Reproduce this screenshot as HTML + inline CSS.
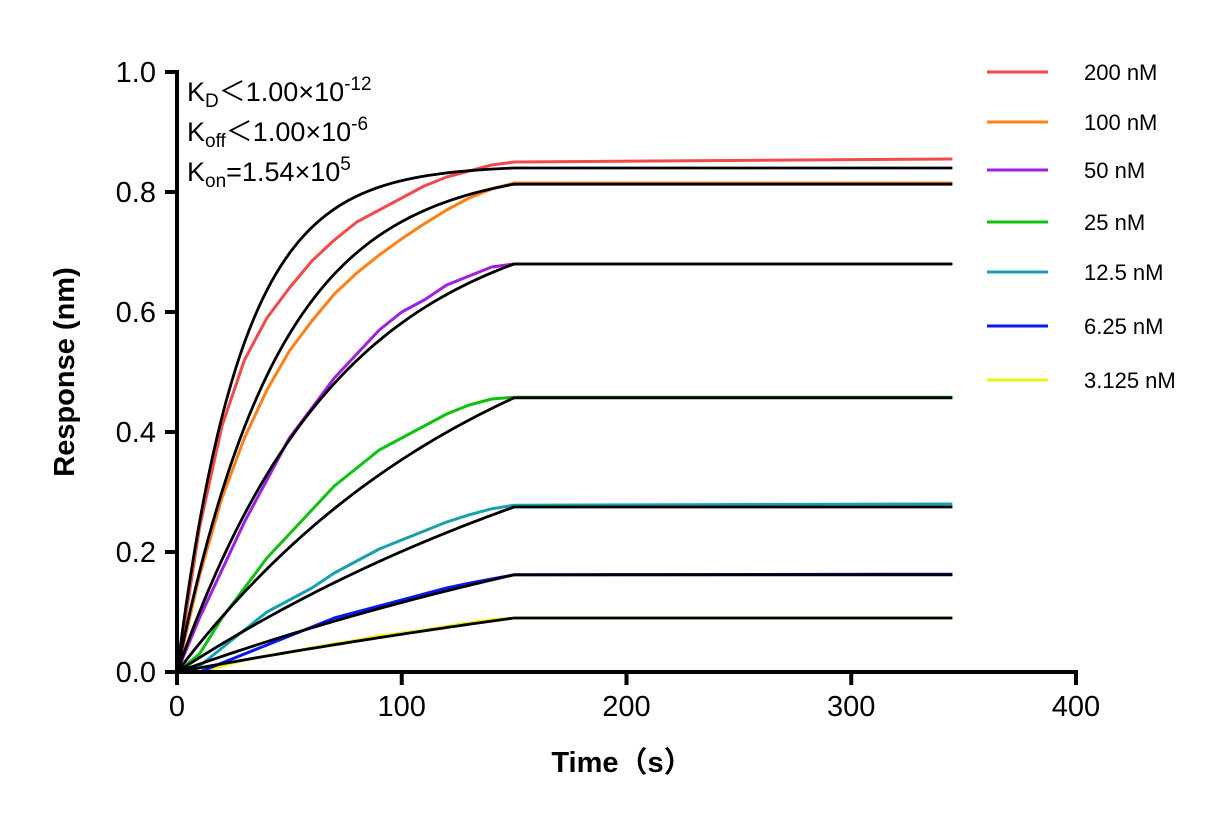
<!DOCTYPE html>
<html><head><meta charset="utf-8"><style>
body{margin:0;background:#fff}
svg text{font-family:"Liberation Sans","Noto Sans CJK SC",sans-serif}
</style></head><body>
<svg id="c" width="1231" height="825" xmlns="http://www.w3.org/2000/svg"></svg>
<script>
const concLabels=["200 nM","100 nM","50 nM","25 nM","12.5 nM","6.25 nM","3.125 nM"];
const colors=["#f04a4a","#ff8018","#a020e0","#10c010","#18a0b0","#0818f0","#f0f010"];
const assocTimes=[0,10,20,30,40,50,60,70,80,90,100,110,120,130,140,150];
const assoc200=[0,0.24,0.41,0.52,0.59,0.64,0.685,0.72,0.75,0.77,0.79,0.81,0.825,0.835,0.845,0.85];
const assoc100=[0,0.16,0.29,0.39,0.47,0.535,0.585,0.63,0.665,0.695,0.722,0.747,0.77,0.79,0.805,0.815];
const assoc50=[0,0.09,0.17,0.25,0.32,0.39,0.44,0.49,0.53,0.57,0.6,0.62,0.645,0.66,0.675,0.68];
const assoc25=[0,0.03,0.09,0.14,0.19,0.23,0.27,0.31,0.34,0.37,0.39,0.41,0.43,0.445,0.455,0.458];
const assoc12=[0,0.01,0.04,0.07,0.1,0.12,0.14,0.165,0.185,0.205,0.22,0.235,0.25,0.262,0.272,0.278];
const assoc6=[0,0,0.015,0.03,0.045,0.06,0.075,0.09,0.1,0.11,0.12,0.13,0.14,0.148,0.155,0.162];
const assoc3=[0,0,0.01,0.02,0.027,0.033,0.04,0.047,0.053,0.06,0.065,0.07,0.076,0.082,0.087,0.09];
const dissocLevels=[0.855,0.815,0.68,0.458,0.28,0.163,0.09];
const fitPlateau=[0.84,0.813,0.68,0.457,0.275,0.162,0.09];
const fitK=[0.035,0.022,0.0137,0.007,0.004,0.003,0.002];
const xTicks=[0,100,200,300,400];
const yTicks=[0,0.2,0.4,0.6,0.8,1.0];
const tEnd=345, tSwitch=150;

const svg=document.getElementById('c');
const NS="http://www.w3.org/2000/svg";
const X=t=>177+t*(1076-177)/400;
const Y=v=>672-v*600;
function mk(tag,at,txt){const e=document.createElementNS(NS,tag);for(const k in at)e.setAttribute(k,at[k]);if(txt!=null)e.textContent=txt;svg.appendChild(e);return e;}

const assocAll=[assoc200,assoc100,assoc50,assoc25,assoc12,assoc6,assoc3];
for(let i=6;i>=0;i--){
  const pts=assocTimes.map((t,j)=>X(t)+","+Y(assocAll[i][j]));
  pts.push(X(tEnd)+","+Y(dissocLevels[i]));
  const p=mk('polyline',{points:pts.join(" "),fill:"none",stroke:colors[i],"stroke-width":3,"stroke-linejoin":"round"});
  
  
}
for(let i=0;i<7;i++){
  const A=fitPlateau[i]/(1-Math.exp(-fitK[i]*tSwitch));
  const pts=[];
  for(let t=0;t<=tSwitch;t+=2)pts.push(X(t)+","+Y(A*(1-Math.exp(-fitK[i]*t))));
  pts.push(X(tEnd)+","+Y(fitPlateau[i]));
  const p=mk('polyline',{points:pts.join(" "),fill:"none",stroke:"#000","stroke-width":2.8});
  
  
}
let a=mk('line',{x1:177,y1:70,x2:177,y2:674,stroke:"#000","stroke-width":4});

a=mk('line',{x1:175,y1:672,x2:1078,y2:672,stroke:"#000","stroke-width":4});

yTicks.forEach(v=>{
  mk('line',{x1:165,y1:Y(v),x2:177,y2:Y(v),stroke:"#000","stroke-width":4});
  const t=mk('text',{x:156,y:Y(v)+10,"text-anchor":"end","font-size":29},v.toFixed(1));
  
});
xTicks.forEach(v=>{
  mk('line',{x1:X(v),y1:672,x2:X(v),y2:685,stroke:"#000","stroke-width":4});
  const t=mk('text',{x:X(v),y:716,"text-anchor":"middle","font-size":29},String(v));
  
});
let t=mk('text',{x:622,y:772,"text-anchor":"middle","font-size":29,"font-weight":"bold"},"Time（s）");

t=mk('text',{x:0,y:0,"text-anchor":"middle","font-size":29,"font-weight":"bold",transform:"translate(74,372) rotate(-90)"},"Response (nm)");

const legY=[72,122,170,222,272,326,380];
for(let i=0;i<7;i++){
  const l=mk('line',{x1:987,y1:legY[i],x2:1048,y2:legY[i],stroke:colors[i],"stroke-width":3});
  
  const lt=mk('text',{x:1084,y:legY[i]+8,"font-size":22},concLabels[i]);
  
}
</script>
<svg style="position:absolute;left:0;top:0" width="430" height="200">
<text x="187" y="101" font-size="27" font-family="Liberation Sans,sans-serif">K<tspan font-size="19" dy="6">D</tspan><tspan dy="-6">＜1.00×10</tspan><tspan font-size="19" dy="-11">-12</tspan></text>
<text x="187" y="141" font-size="27" font-family="Liberation Sans,sans-serif">K<tspan font-size="19" dy="6">off</tspan><tspan dy="-6">＜1.00×10</tspan><tspan font-size="19" dy="-11">-6</tspan></text>
<text x="187" y="181" font-size="27" font-family="Liberation Sans,sans-serif">K<tspan font-size="19" dy="6">on</tspan><tspan dy="-6">=1.54×10</tspan><tspan font-size="19" dy="-11">5</tspan></text>
</svg>
</body></html>
